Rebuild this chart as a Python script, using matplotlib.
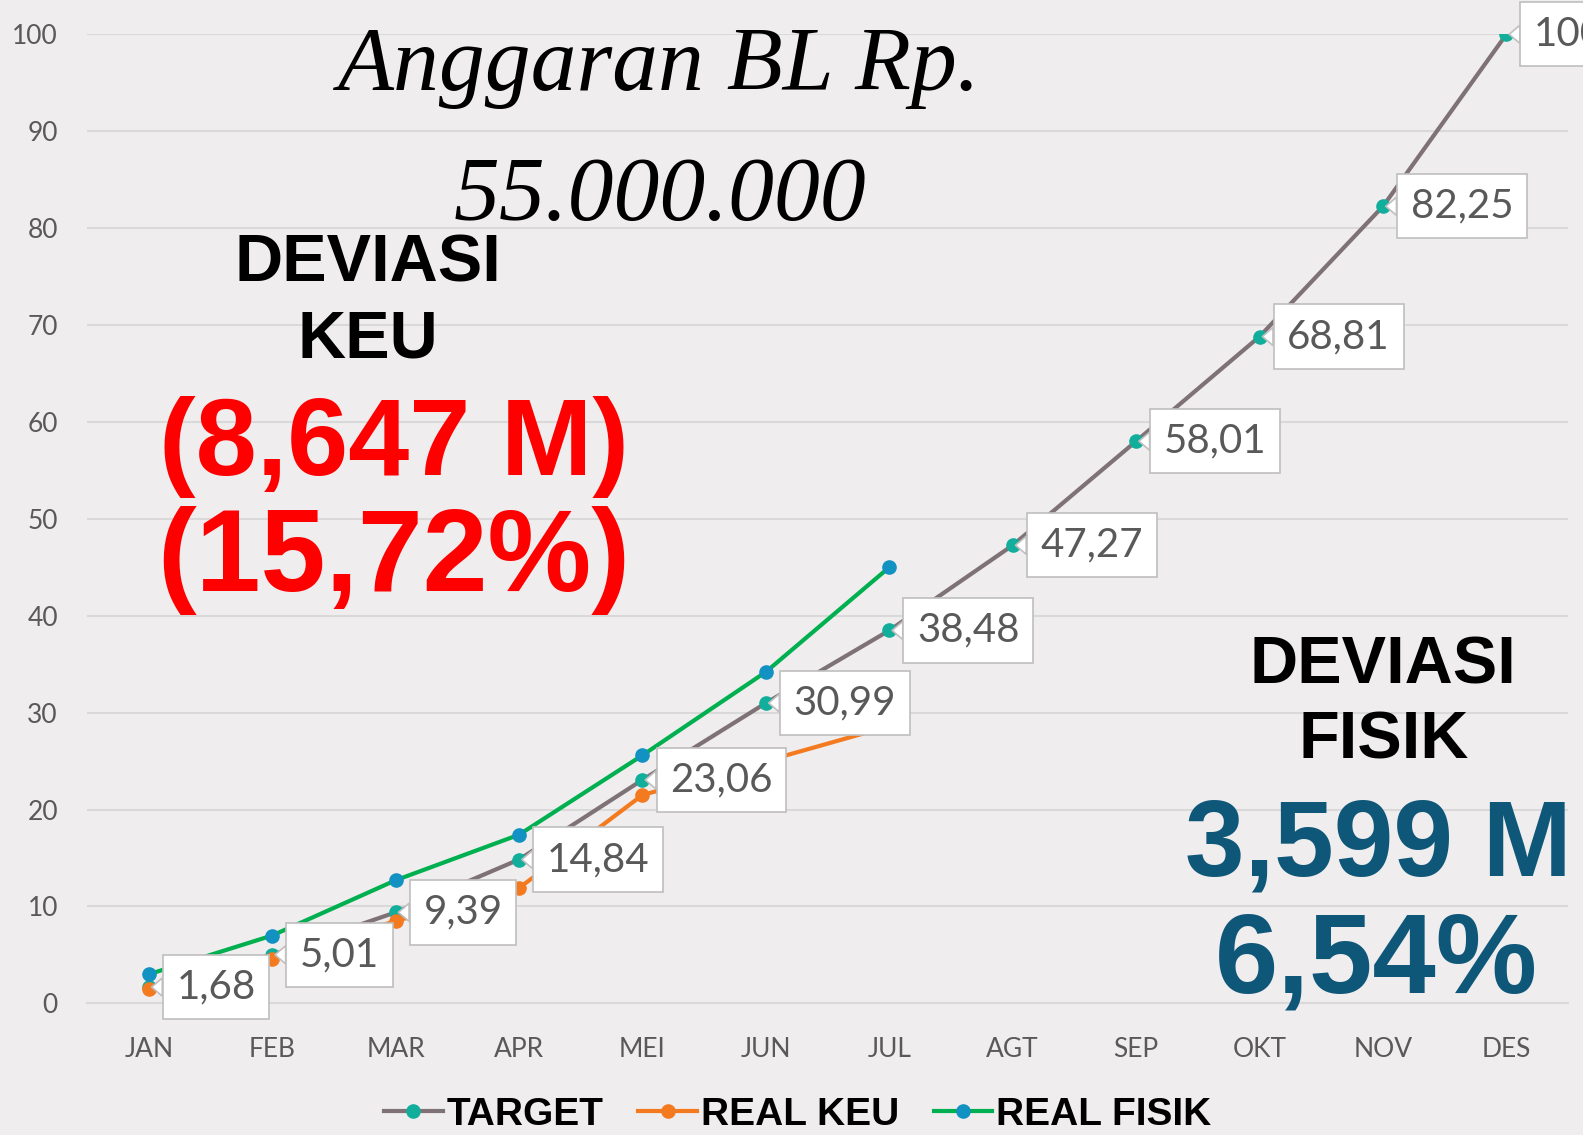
import matplotlib
matplotlib.use("Agg")
import matplotlib.pyplot as plt

months = ["JAN", "FEB", "MAR", "APR", "MEI", "JUN", "JUL", "AGT", "SEP", "OKT", "NOV", "DES"]
target = [1.68, 5.01, 9.39, 14.84, 23.06, 30.99, 38.48, 47.27, 58.01, 68.81, 82.25, 100]
real_keu = [1.5, 4.6, 8.5, 11.9, 21.5, 25.0, 28.6]
real_fisik = [3.0, 7.0, 12.7, 17.4, 25.6, 34.2, 45.0]
target_labels = ["1,68", "5,01", "9,39", "14,84", "23,06", "30,99", "38,48",
                 "47,27", "58,01", "68,81", "82,25", "100"]
y_ticks = [0, 10, 20, 30, 40, 50, 60, 70, 80, 90, 100]

BG = "#EFEDEE"
GREY_TXT = "#595959"
LBL_FONT = ["Lato", "DejaVu Sans"]
BOLD_NARROW = ["Liberation Sans Narrow", "Liberation Sans", "DejaVu Sans"]

fig = plt.figure(figsize=(15.83, 11.35), dpi=100, facecolor=BG)
ax = fig.add_axes([0.055, 0.116, 0.9356, 0.8538], facecolor=BG)

x = list(range(len(months)))
ax.plot(x, target, color="#7F7277", lw=3, marker="o", ms=9.5,
        mfc="#12AE9C", mec="#12AE9C", label="TARGET", zorder=3)
ax.plot(x[:len(real_keu)], real_keu, color="#F47A20", lw=3, marker="o", ms=9.5,
        mfc="#F47A20", mec="#F47A20", label="REAL KEU", zorder=4)
ax.plot(x[:len(real_fisik)], real_fisik, color="#00B050", lw=3, marker="o", ms=9.5,
        mfc="#1192C2", mec="#1192C2", label="REAL FISIK", zorder=5)

for xi, yi, lab in zip(x, target, target_labels):
    ax.annotate(lab, (xi, yi), xytext=(20, 0), textcoords="offset points",
                ha="left", va="center", fontsize=29, color=GREY_TXT, family=LBL_FONT,
                bbox=dict(boxstyle="square,pad=0.34", fc="white", ec="#BFBFBF", lw=1.2),
                arrowprops=dict(arrowstyle="wedge,tail_width=0.45,shrink_factor=0.5",
                                fc="white", ec="#BFBFBF", lw=1.2, relpos=(0, 0.5),
                                shrinkA=0, shrinkB=2),
                zorder=10, annotation_clip=False)

ax.set_xlim(-0.5, 11.5)
ax.set_ylim(0, 100)
ax.set_xticks(x)
ax.set_xticklabels(months)
ax.set_yticks(y_ticks)
ax.tick_params(axis="both", length=0, labelsize=19, labelcolor=GREY_TXT)
ax.tick_params(axis="x", pad=24)
ax.tick_params(axis="y", pad=21)
for t in ax.get_xticklabels() + ax.get_yticklabels():
    t.set_family(LBL_FONT)
ax.grid(axis="y", color="#D9D9D9", lw=1.5)
ax.set_axisbelow(True)
for s in ["top", "right", "left"]:
    ax.spines[s].set_visible(False)
ax.spines["bottom"].set_color("#D9D9D9")
ax.spines["bottom"].set_linewidth(1.5)

# title texts
fig.text(0.416, 0.940, "Anggaran BL Rp.", fontsize=66, style="italic",
         family=["Liberation Serif", "DejaVu Serif"], ha="center", va="center")
fig.text(0.417, 0.826, "55.000.000", fontsize=66, style="italic",
         family=["Liberation Serif", "DejaVu Serif"], ha="center", va="center")

# deviasi keu
bold = ["Liberation Sans", "DejaVu Sans"]
fig.text(0.2327, 0.7667, "DEVIASI", fontsize=48, weight="bold", family=bold,
         ha="center", va="center", zorder=6)
fig.text(0.2327, 0.7004, "KEU", fontsize=48, weight="bold", family=bold,
         ha="center", va="center")
fig.text(0.2488, 0.6062, "(8,647 M)", fontsize=79, weight="bold", family=bold,
         color="#FF0000", ha="center", va="center")
fig.text(0.2488, 0.5066, "(15,72%)", fontsize=84, weight="bold", family=bold,
         color="#FF0000", ha="center", va="center")

# deviasi fisik
fig.text(0.8738, 0.4132, "DEVIASI", fontsize=48, weight="bold", family=bold,
         ha="center", va="center")
fig.text(0.8738, 0.3463, "FISIK", fontsize=48, weight="bold", family=bold,
         ha="center", va="center")
fig.text(0.8705, 0.2529, "3,599 M", fontsize=77, weight="bold", family=bold,
         color="#0F5779", ha="center", va="center")
fig.text(0.8692, 0.1507, "6,54%", fontsize=82, weight="bold", family=bold,
         color="#0F5779", ha="center", va="center")

leg = fig.legend(loc="center", bbox_to_anchor=(0.504, 0.018), ncol=3, frameon=False,
                 handlelength=1.5, handletextpad=0.1, columnspacing=0.9,
                 prop={"family": BOLD_NARROW, "weight": "bold", "size": 28})

fig.savefig("out.png", dpi=100, facecolor=BG)
